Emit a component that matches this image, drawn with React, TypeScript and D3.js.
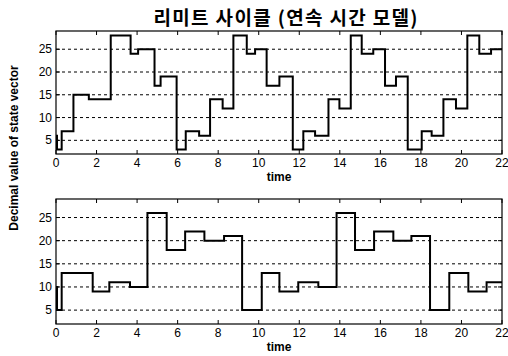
import React from "react";
import * as d3 from "d3";

// State trajectories: switching times and the decimal value held from each time on
const topTimes = [0, 0.05, 0.28, 0.86, 1.62, 2.7, 3.68, 4.05, 4.86, 5.16, 5.95, 6.4, 7.06, 7.6, 8.22, 8.75, 9.41, 9.82, 10.39, 11.02, 11.68, 12.2, 12.78, 13.44, 13.98, 14.54, 15.08, 15.65, 16.23, 16.77, 17.35, 18.04, 18.53, 19.11, 19.73, 20.29, 20.88, 21.46, 22];
const topValues = [6, 3, 7, 15, 14, 28, 24, 25, 17, 19, 3, 7, 6, 14, 12, 28, 24, 25, 17, 19, 3, 7, 6, 14, 12, 28, 24, 25, 17, 19, 3, 7, 6, 14, 12, 28, 24, 25, 25];

const bottomTimes = [0, 0.05, 0.28, 1.81, 2.63, 3.65, 4.51, 5.46, 6.37, 7.32, 8.29, 9.18, 10.15, 11.02, 11.95, 12.94, 13.84, 14.75, 15.69, 16.64, 17.53, 18.45, 19.4, 20.34, 21.24, 22];
const bottomValues = [10, 5, 13, 9, 11, 10, 26, 18, 22, 20, 21, 5, 13, 9, 11, 10, 26, 18, 22, 20, 21, 5, 13, 9, 11, 11];

const xTicks = [0, 2, 4, 6, 8, 10, 12, 14, 16, 18, 20, 22];
const yTicks = [5, 10, 15, 20, 25];

const titleText = "리미트 사이클 (연속 시간 모델)";
const xLabel = "time";
const yLabel = "Decimal value of state vector";

const W = 508;
const H = 356;
const FONT = "'Liberation Sans', Arial, sans-serif";

type PanelProps = { top: number; bottom: number; times: number[]; values: number[] };

function Panel({ top, bottom, times, values }: PanelProps) {
  const left = 56;
  const right = 502;
  const x = d3.scaleLinear().domain([0, 22]).range([left, right]);
  const y = d3.scaleLinear().domain([2, 29]).range([bottom, top]);
  const pts: [number, number][] = times.map((t, i) => [t, values[i]]);
  const line = d3
    .line<[number, number]>()
    .x((d) => x(d[0]))
    .y((d) => y(d[1]))
    .curve(d3.curveStepAfter);
  const tickLen = 4;
  return (
    <g>
      {yTicks.map((v) => (
        <line key={"g" + v} x1={left} x2={right} y1={y(v)} y2={y(v)} stroke="#000" strokeWidth={1} strokeDasharray="3,3" />
      ))}
      <path d={line(pts) ?? ""} fill="none" stroke="#000" strokeWidth={2} />
      <rect x={left} y={top} width={right - left} height={bottom - top} fill="none" stroke="#000" strokeWidth={1.2} />
      {xTicks.map((t) => (
        <g key={"x" + t}>
          <line x1={x(t)} x2={x(t)} y1={bottom} y2={bottom - tickLen} stroke="#000" />
          <line x1={x(t)} x2={x(t)} y1={top} y2={top + tickLen} stroke="#000" />
          <text x={x(t)} y={bottom + 13} textAnchor="middle" fontSize={12} fontFamily={FONT}>
            {t}
          </text>
        </g>
      ))}
      {yTicks.map((v) => (
        <g key={"y" + v}>
          <line x1={left} x2={left + tickLen} y1={y(v)} y2={y(v)} stroke="#000" />
          <line x1={right} x2={right - tickLen} y1={y(v)} y2={y(v)} stroke="#000" />
          <text x={left - 4} y={y(v) + 4} textAnchor="end" fontSize={12} fontFamily={FONT}>
            {v}
          </text>
        </g>
      ))}
      <text x={(left + right) / 2} y={bottom + 27} textAnchor="middle" fontSize={12} fontWeight="bold" fontFamily={FONT}>
        {xLabel}
      </text>
    </g>
  );
}

export default function App() {
  return (
    <svg width={W} height={H} style={{ display: "block", position: "absolute", left: 0, top: 0, background: "#fff" }}>
      <rect x={0} y={0} width={W} height={H} fill="#fff" />
      <text
        x={285.5}
        y={25}
        textAnchor="middle"
        fontSize={19}
        fontWeight="bold"
        textLength={264}
        lengthAdjust="spacing"
        fontFamily="'Noto Sans CJK KR', sans-serif"
      >
        {titleText}
      </text>
      <Panel top={31} bottom={154} times={topTimes} values={topValues} />
      <Panel top={199} bottom={324} times={bottomTimes} values={bottomValues} />
      <text
        transform="translate(18,148) rotate(-90)"
        textAnchor="middle"
        fontSize={12}
        fontWeight="bold"
        fontFamily={FONT}
      >
        {yLabel}
      </text>
    </svg>
  );
}
